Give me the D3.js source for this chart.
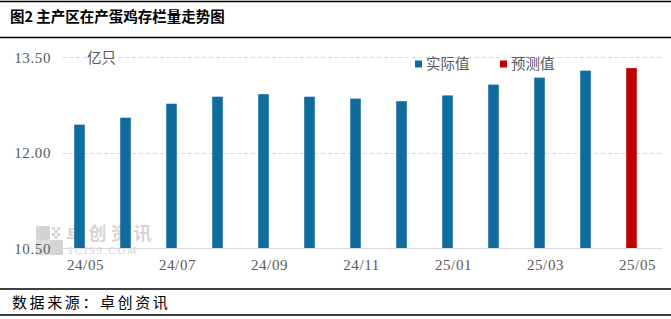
<!DOCTYPE html>
<html><head><meta charset="utf-8">
<script src="https://cdn.jsdelivr.net/npm/d3@7"></script>
<style>
html,body{margin:0;padding:0;background:#fff;}
svg{display:block;}
</style></head>
<body>
<script>
const months = ["24/05","24/06","24/07","24/08","24/09","24/10","24/11","24/12","25/01","25/02","25/03","25/04","25/05"];
const values = [12.44,12.55,12.77,12.88,12.92,12.88,12.85,12.81,12.90,13.07,13.18,13.29,13.33];
const seriesType = ["实际值","实际值","实际值","实际值","实际值","实际值","实际值","实际值","实际值","实际值","实际值","实际值","预测值"];
const legendNames = ["实际值","预测值"];
const legendColors = ["#116C9E","#C00000"];
const yTicks = [10.5,12.0,13.5];
const xTickLabels = ["24/05","24/07","24/09","24/11","25/01","25/03","25/05"];

const W = 671, H = 319;
const svg = d3.select("body").append("svg").attr("width", W).attr("height", H);
const cjk = "'Noto Sans CJK SC','Noto Sans',sans-serif";
const num = "'Liberation Serif','DejaVu Serif',serif";

// Title and frame lines
svg.append("line").attr("x1",0).attr("x2",W).attr("y1",1.5).attr("y2",1.5).attr("stroke","#000").attr("stroke-width",1.5);
svg.append("line").attr("x1",0).attr("x2",W).attr("y1",37.5).attr("y2",37.5).attr("stroke","#000").attr("stroke-width",1.5);
svg.append("text").attr("x",10).attr("y",21.5).attr("font-family",cjk).attr("font-weight",700)
  .attr("font-size",14.5).attr("fill","#000").text("图2 主产区在产蛋鸡存栏量走势图");
svg.append("line").attr("x1",0).attr("x2",W).attr("y1",289).attr("y2",289).attr("stroke","#000").attr("stroke-width",1.5);
svg.append("line").attr("x1",0).attr("x2",W).attr("y1",315).attr("y2",315).attr("stroke","#000").attr("stroke-width",1.5);
svg.append("text").attr("x",12).attr("y",307.5).attr("font-family",cjk)
  .attr("font-size",15).attr("letter-spacing",2.6).attr("fill","#000").text("数据来源：卓创资讯");

const x = d3.scaleBand().domain(months).range([56.5, 654.5]).paddingInner(0.77).paddingOuter(0.385);
const y = d3.scaleLinear().domain([10.5, 13.5]).range([248, 57.3]);

// gridlines
svg.append("g").selectAll("line").data(yTicks.slice(1)).join("line")
  .attr("x1",62).attr("x2",662).attr("y1",d=>Math.round(y(d))+0.5).attr("y2",d=>Math.round(y(d))+0.5)
  .attr("stroke","#d9d9d9").attr("stroke-dasharray","4,3").attr("stroke-width",1);

// watermark
const wm = svg.append("g").attr("fill","#d4d4d4");
wm.append("rect").attr("x",36).attr("y",226).attr("width",14).attr("height",14);
wm.append("rect").attr("x",36).attr("y",240).attr("width",14).attr("height",15).attr("fill","#e0e0e0");
wm.append("rect").attr("x",50).attr("y",240).attr("width",13).attr("height",15);
[[52,227],[57,227],[54.5,230],[52,233],[57,233],[54.5,236]].forEach(p=>wm.append("rect").attr("x",p[0]).attr("y",p[1]).attr("width",3).attr("height",3));
wm.append("text").attr("x",66).attr("y",240).attr("font-family",cjk).attr("font-weight",700).attr("font-size",18).attr("letter-spacing",4.5).text("卓创资讯");
wm.append("text").attr("x",67).attr("y",254).attr("font-family",num).attr("font-size",10.5).attr("letter-spacing",2).text("SCI99.COM");

// bars
svg.append("g").selectAll("rect").data(months).join("rect")
  .attr("x",d=>x(d)).attr("width",x.bandwidth())
  .attr("y",(d,i)=>y(values[i])).attr("height",(d,i)=>y(10.5)-y(values[i]))
  .attr("fill",(d,i)=>legendColors[legendNames.indexOf(seriesType[i])]);

// x axis
const xAxis = svg.append("g").attr("transform","translate(0,248)")
  .call(d3.axisBottom(x).tickValues(xTickLabels).tickSize(0).tickPadding(11));
xAxis.select(".domain").remove();
xAxis.append("line").attr("x1",62).attr("x2",662).attr("y1",0.5).attr("y2",0.5).attr("stroke","#d9d9d9");
xAxis.selectAll("text").attr("font-family",num).attr("font-size",15).attr("letter-spacing",0.6)
  .attr("fill","#595959").attr("dx",6);

// y axis
const yAxis = svg.append("g").attr("transform","translate(51,0)")
  .call(d3.axisLeft(y).tickValues(yTicks).tickFormat(d3.format(".2f")).tickSize(0).tickPadding(0));
yAxis.select(".domain").remove();
yAxis.selectAll("text").attr("font-family",num).attr("font-size",15).attr("letter-spacing",0.6)
  .attr("fill","#595959").attr("dy","0.35em");

// unit
svg.append("text").attr("x",87).attr("y",63).attr("font-family",cjk).attr("font-size",14.5)
  .attr("fill","#595959").text("亿只");

// legend
const lg = svg.append("g");
const lx = [415, 500];
legendNames.forEach((n,i)=>{
  lg.append("rect").attr("x",lx[i]).attr("y",60.5).attr("width",7).attr("height",7).attr("fill",legendColors[i]);
  lg.append("text").attr("x",lx[i]+11).attr("y",69).attr("font-family",cjk).attr("font-size",14.5)
    .attr("fill","#595959").text(n);
});
</script>
</body></html>
